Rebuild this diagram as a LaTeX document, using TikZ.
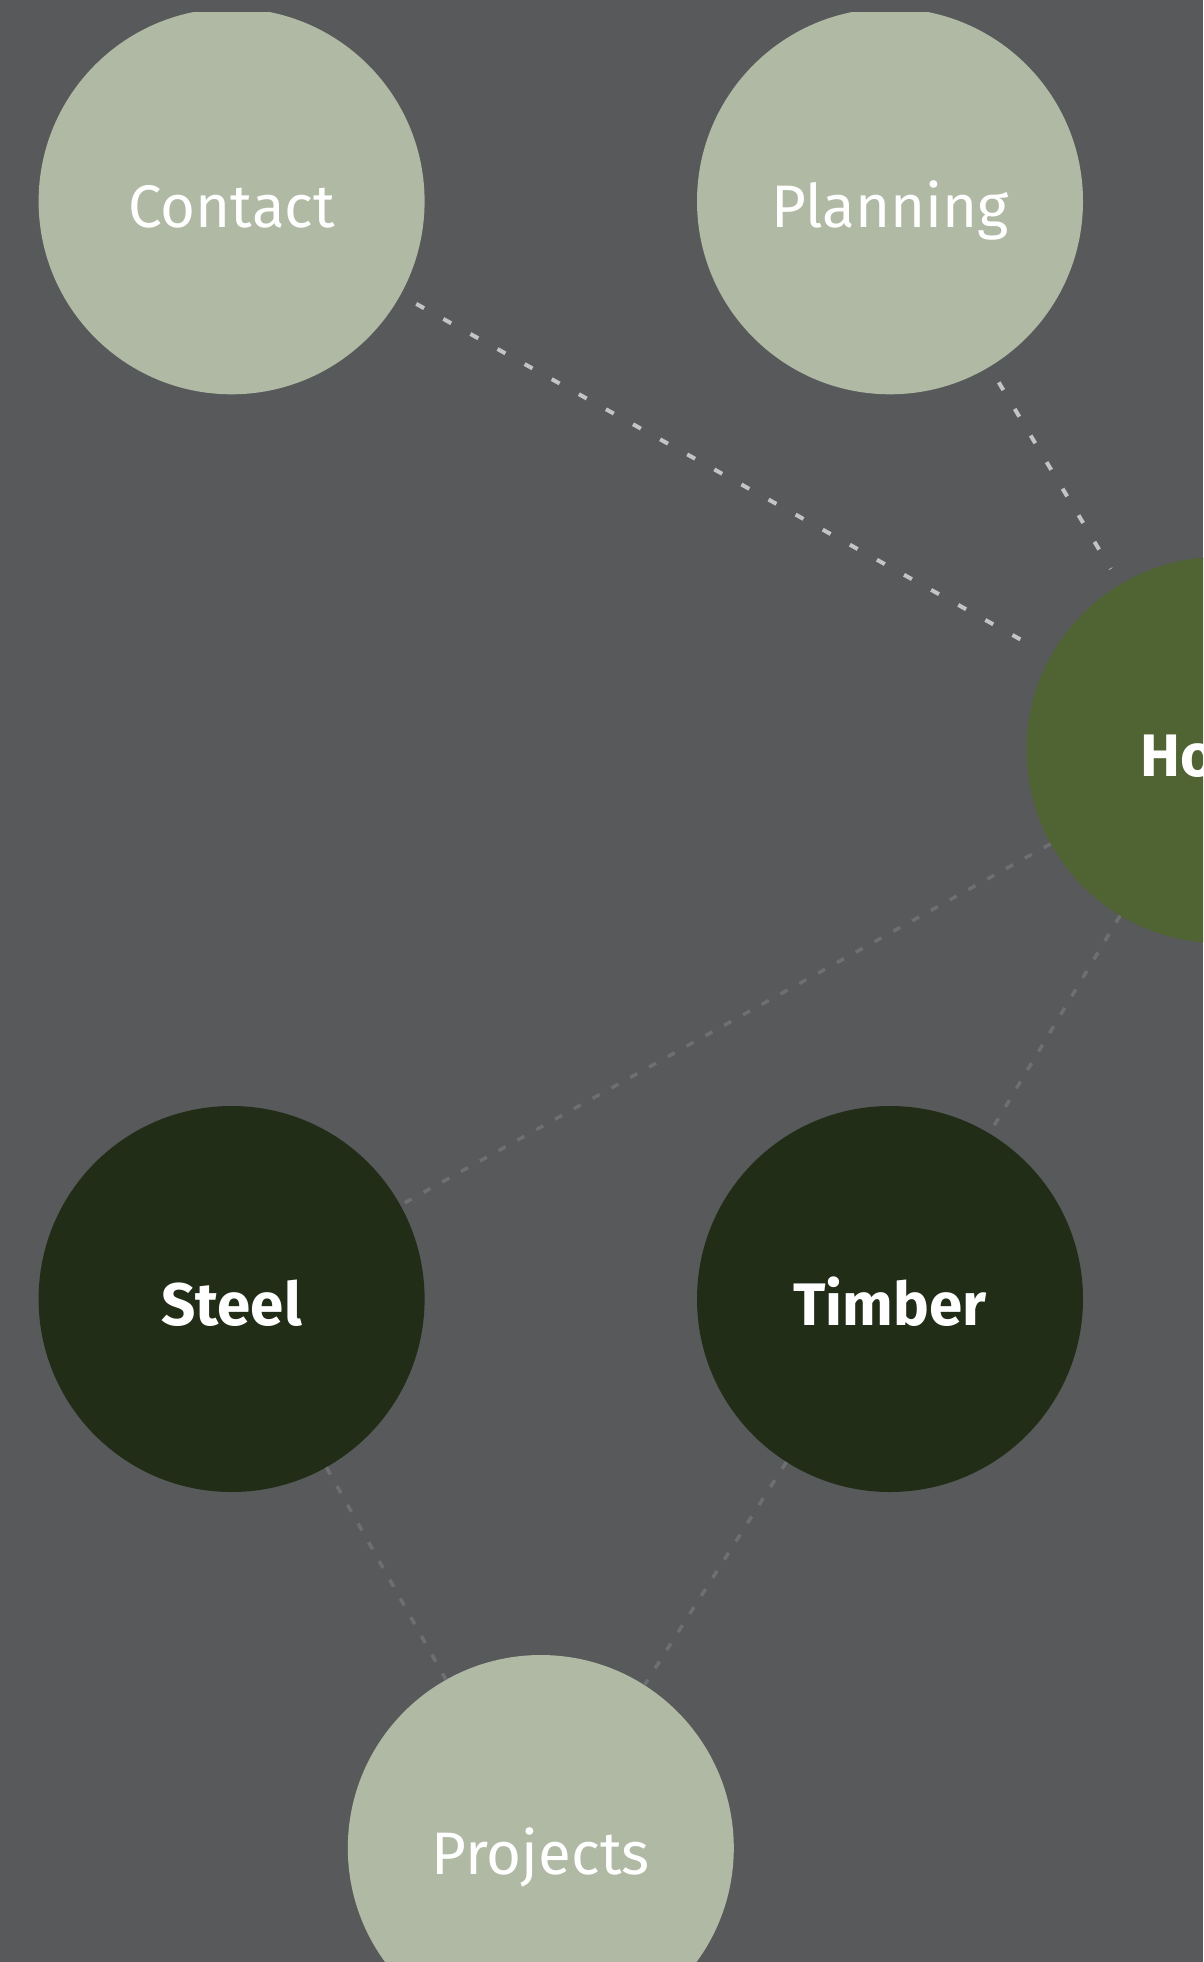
\documentclass[tikz,border=0pt]{standalone}
\usepackage{fontspec}
\setmainfont{Fira Sans}
\definecolor{bg}{HTML}{58595B}
\definecolor{sage}{HTML}{AFB9A3}
\definecolor{olive}{HTML}{506332}
\definecolor{forest}{HTML}{222D18}
\definecolor{lightdash}{HTML}{C4C4C4}
\definecolor{darkdash}{HTML}{6E6F71}
\begin{document}
\begin{tikzpicture}[x=1pt,y=-1pt,
  bubble/.style={circle,minimum size=386pt,inner sep=0pt,text=white,
    font=\fontsize{60}{60}\selectfont,text height=52pt,text depth=0pt},
  upline/.style={lightdash,line width=4pt,dash pattern=on 9pt off 22pt,
    shorten <=18pt,shorten >=18pt},
  lowline/.style={darkdash,line width=3.5pt,dash pattern=on 8pt off 13.5pt}]
\fill[bg] (0,0) rectangle (1203,1962);
\useasboundingbox (0,0) rectangle (1203,1962);
\begin{scope}
\clip (0,12) rectangle (1203,1962);
\node[bubble,fill=sage] (C) at (231.6,201.3) {Contact};
\node[bubble,fill=sage] (P) at (890,201.3) {Planning};
\node[bubble,fill=olive,font=\fontsize{60}{60}\selectfont\bfseries] (H) at (1219.5,750) {Home};
\node[bubble,fill=forest,font=\fontsize{60}{60}\selectfont\bfseries] (S) at (231.6,1299) {Steel};
\node[bubble,fill=forest,font=\fontsize{60}{60}\selectfont\bfseries] (T) at (890,1299) {Timber};
\node[bubble,fill=sage] (R) at (540.8,1848) {Projects};
\draw[upline] (C)--(H);
\draw[upline] (P)--(H);
\draw[lowline] (H)--(S);
\draw[lowline] (H)--(T);
\draw[lowline] (S)--(R);
\draw[lowline] (T)--(R);
\end{scope}
\end{tikzpicture}
\end{document}
